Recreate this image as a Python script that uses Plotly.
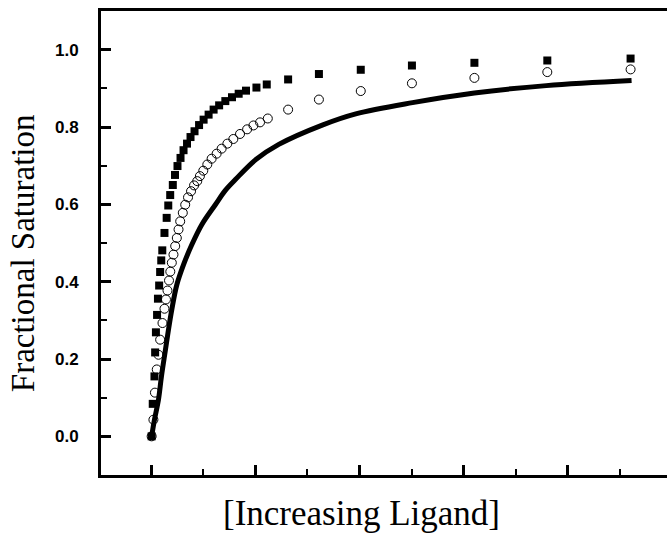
import plotly.graph_objects as go

# Filled squares (highest affinity)
sq_x = [0.01, 0.031, 0.064, 0.077, 0.092, 0.114, 0.131, 0.154, 0.173, 0.194, 0.214,
        0.256, 0.298, 0.329, 0.366, 0.416, 0.458, 0.506, 0.564, 0.622, 0.689, 0.756,
        0.833, 0.920, 1.007, 1.103, 1.199, 1.305, 1.424, 1.552, 1.680, 1.821, 2.021,
        2.219, 2.629, 3.220, 4.023, 5.005, 6.204, 7.603, 9.201]
sq_y = [0.000, 0.084, 0.155, 0.217, 0.269, 0.314, 0.356, 0.390, 0.425, 0.455, 0.481,
        0.526, 0.565, 0.597, 0.624, 0.650, 0.676, 0.699, 0.720, 0.740, 0.757, 0.774,
        0.789, 0.805, 0.819, 0.832, 0.845, 0.856, 0.867, 0.877, 0.886, 0.894, 0.902,
        0.910, 0.923, 0.937, 0.948, 0.959, 0.966, 0.972, 0.977]

# Open circles (intermediate affinity)
ci_x = [0.01, 0.044, 0.073, 0.108, 0.141, 0.173, 0.218, 0.256, 0.285, 0.314, 0.343,
        0.368, 0.397, 0.429, 0.462, 0.493, 0.526, 0.558, 0.608, 0.654, 0.708, 0.766,
        0.824, 0.885, 0.936, 1.001, 1.078, 1.161, 1.257, 1.353, 1.463, 1.578, 1.706,
        1.842, 1.963, 2.090, 2.239, 2.629, 3.220, 4.023, 5.005, 6.204, 7.603, 9.201]
ci_y = [0.000, 0.043, 0.113, 0.173, 0.211, 0.250, 0.293, 0.330, 0.354, 0.377, 0.403,
        0.426, 0.449, 0.470, 0.492, 0.513, 0.535, 0.556, 0.578, 0.599, 0.618, 0.634,
        0.649, 0.660, 0.673, 0.687, 0.703, 0.718, 0.731, 0.744, 0.757, 0.769, 0.782,
        0.794, 0.804, 0.812, 0.822, 0.845, 0.871, 0.893, 0.913, 0.927, 0.942, 0.949]

# Solid curve (lowest affinity)
ln_x = [0.01, 0.064, 0.141, 0.198, 0.275, 0.333, 0.397, 0.493, 0.622, 0.782, 0.974,
        1.232, 1.424, 1.617, 2.002, 2.450, 3.284, 3.927, 5.016, 6.204, 7.584, 9.220]
ln_y = [0.000, 0.043, 0.095, 0.155, 0.224, 0.276, 0.328, 0.392, 0.444, 0.496, 0.548,
        0.599, 0.636, 0.664, 0.715, 0.755, 0.805, 0.834, 0.863, 0.888, 0.907, 0.920]

y_ticks = [0.0, 0.2, 0.4, 0.6, 0.8, 1.0]
y_labels = ["0.0", "0.2", "0.4", "0.6", "0.8", "1.0"]

fig = go.Figure()
fig.add_trace(go.Scatter(x=ln_x, y=ln_y, mode="lines",
                         line=dict(color="black", width=5, shape="spline"),
                         showlegend=False))
fig.add_trace(go.Scatter(x=ci_x, y=ci_y, mode="markers",
                         marker=dict(symbol="circle-open", size=9, color="black",
                                     line=dict(width=1, color="black")),
                         showlegend=False))
fig.add_trace(go.Scatter(x=sq_x, y=sq_y, mode="markers",
                         marker=dict(symbol="square", size=8, color="black"),
                         showlegend=False))

fig.update_layout(
    width=667, height=535,
    margin=dict(l=101, r=0, t=11, b=60),
    paper_bgcolor="white", plot_bgcolor="white",
    xaxis=dict(range=[-0.962, 9.90], showgrid=False, zeroline=False,
               showline=True, linecolor="black", linewidth=3, mirror=True,
               ticks="inside", ticklen=10, tickwidth=3, tickcolor="black",
               tick0=0, dtick=2, showticklabels=False,
               minor=dict(ticks="inside", dtick=1, tick0=0, ticklen=6,
                          tickwidth=2, tickcolor="black", showgrid=False)),
    yaxis=dict(range=[-0.1, 1.1], showgrid=False, zeroline=False,
               showline=True, linecolor="black", linewidth=3, mirror=False,
               ticks="inside", ticklen=10, tickwidth=3, tickcolor="black",
               tickvals=y_ticks, ticktext=y_labels, ticklabelstandoff=16,
               tickfont=dict(family="Liberation Sans", size=17, color="black",
                             weight="bold"),
               minor=dict(ticks="inside", dtick=0.1, tick0=0, ticklen=6,
                          tickwidth=2, tickcolor="black", showgrid=False)),
    annotations=[
        dict(text="[Increasing Ligand]", xref="paper", yref="paper",
             x=0.4595, y=0, yshift=-38, xanchor="center", yanchor="middle",
             showarrow=False,
             font=dict(family="Liberation Serif", size=35, color="black")),
        dict(text="Fractional Saturation", xref="paper", yref="paper",
             x=0, xshift=-78, y=0.478, xanchor="center", yanchor="middle",
             textangle=-90, showarrow=False,
             font=dict(family="Liberation Serif", size=33, color="black")),
    ],
)

fig.write_html("out.html",
               config={"displayModeBar": False},
               post_script="document.body.style.margin='0px';"
                           "document.body.style.overflow='hidden';")
